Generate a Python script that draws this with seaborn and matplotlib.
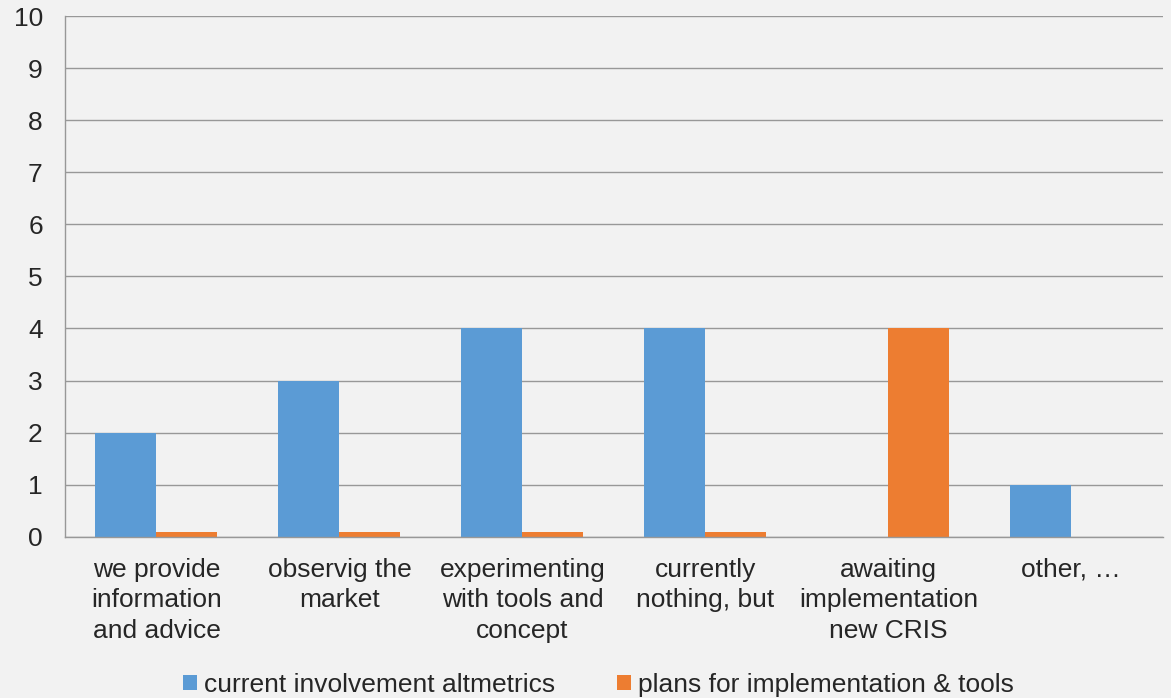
import pandas as pd
import matplotlib.pyplot as plt
import seaborn as sns

# Data
categories = ["we provide\ninformation\nand advice", "observig the\nmarket",
              "experimenting\nwith tools and\nconcept", "currently\nnothing, but",
              "awaiting\nimplementation\nnew CRIS", "other, \u2026"]
current = [2, 3, 4, 4, 0, 1]
plans = [0.1, 0.1, 0.1, 0.1, 4, 0]
series = ["current involvement altmetrics", "plans for implementation & tools"]
colors = ["#5B9BD5", "#ED7D31"]

df = pd.DataFrame({
    "category": categories * 2,
    "value": current + plans,
    "series": [series[0]] * len(categories) + [series[1]] * len(categories),
})

sns.set_style("white")
plt.rcParams["font.family"] = ["Liberation Sans", "DejaVu Sans"]
bg = "#F2F2F2"
grid = "#989898"
fs = 19

fig, ax = plt.subplots(figsize=(11.71, 6.98), dpi=100)
fig.patch.set_facecolor(bg)
ax.set_facecolor(bg)

sns.barplot(data=df, x="category", y="value", hue="series", palette=colors,
            width=0.667, saturation=1, linewidth=0, ax=ax, legend=True)

ax.set_ylim(0, 10)
ax.set_xlim(-0.5, len(categories) - 0.5)
ax.set_yticks(range(0, 11))
ax.yaxis.grid(True, color=grid, linewidth=1)
ax.set_axisbelow(True)
for s in ["top", "right"]:
    ax.spines[s].set_visible(False)
for s in ["left", "bottom"]:
    ax.spines[s].set_color(grid)
    ax.spines[s].set_linewidth(1)

ax.set_xticks(range(len(categories)))
ax.set_xticklabels(categories, linespacing=1.36)
ax.set_xticks([i + 0.5 for i in range(-1, len(categories))], minor=True)
ax.tick_params(axis="x", which="major", length=0, pad=15, labelsize=fs)
ax.tick_params(axis="x", which="minor", length=7, color=grid, width=1)
ax.tick_params(axis="y", length=7, color=grid, width=1, labelsize=fs, pad=9)
ax.set_xlabel("")
ax.set_ylabel("")

ax.legend(loc="center", bbox_to_anchor=(0.511, 0.019), bbox_transform=fig.transFigure,
          ncol=2, frameon=False, fontsize=fs, handlelength=0.53, handleheight=0.53,
          handletextpad=0.27, columnspacing=2.35, borderpad=0)

plt.subplots_adjust(left=0.0555, right=0.993, top=0.977, bottom=0.231)
plt.savefig("out.png", facecolor=bg)
